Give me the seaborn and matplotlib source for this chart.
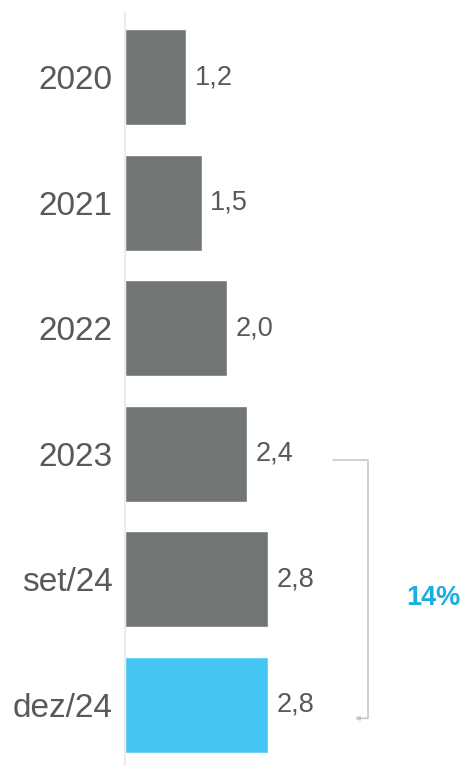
import matplotlib
matplotlib.use('Agg')
import matplotlib.pyplot as plt
import pandas as pd
import seaborn as sns

# Data
categories = ['2020', '2021', '2022', '2023', 'set/24', 'dez/24']
values = [1.2, 1.5, 2.0, 2.4, 2.8, 2.8]
bar_colors = ['#717573', '#717573', '#717573', '#717573', '#717573', '#45c6f2']
growth_label = '14%'

df = pd.DataFrame({'categoria': categories, 'valor': values})

sns.set_style('white')
plt.rcParams['font.family'] = ['Liberation Sans', 'DejaVu Sans']

fig = plt.figure(figsize=(4.62, 7.66), dpi=100)
ax = fig.add_axes([125 / 462, 0, 337 / 462, 753 / 766])

sns.barplot(data=df, x='valor', y='categoria', hue='categoria',
            palette=bar_colors, orient='h', width=0.765, legend=False,
            saturation=1, ax=ax)

ax.set_xlim(0, 337 / 51)
ax.set_ylim(5.49, -0.51)

# value labels with comma decimal
for cont in ax.containers:
    labs = [f'{v:.1f}'.replace('.', ',') for v in cont.datavalues]
    ax.bar_label(cont, labels=labs, padding=6, fontsize=19.5, color='#595959')

ax.set_xlabel('')
ax.set_ylabel('')
ax.set_xticks([])
ax.tick_params(axis='y', length=0, pad=9, labelsize=24, labelcolor='#595959')

for s in ['top', 'right', 'bottom']:
    ax.spines[s].set_visible(False)
ax.spines['left'].set_color('#ececec')
ax.spines['left'].set_linewidth(1.5)

# bracket from 2023 to dez/24
i0 = categories.index('2023')
i1 = categories.index('dez/24')
bx0, bx1, bx2 = 4.08, 4.76, 4.51
ax.plot([bx0, bx1, bx1], [i0 + 0.05, i0 + 0.05, i1 + 0.11],
        color='#c8c8c8', lw=1.2, clip_on=False)
ax.annotate('', xy=(bx2, i1 + 0.11), xytext=(bx1, i1 + 0.11),
            arrowprops=dict(arrowstyle='-|>', color='#c8c8c8', lw=1.2,
                            mutation_scale=6, shrinkA=0, shrinkB=0),
            annotation_clip=False)
ax.text(6.04, (i0 + i1) / 2 + 0.15, growth_label, color='#1aaee2',
        fontsize=19.5, fontweight='bold', ha='center', va='center')

fig.savefig('out.png', dpi=100)
